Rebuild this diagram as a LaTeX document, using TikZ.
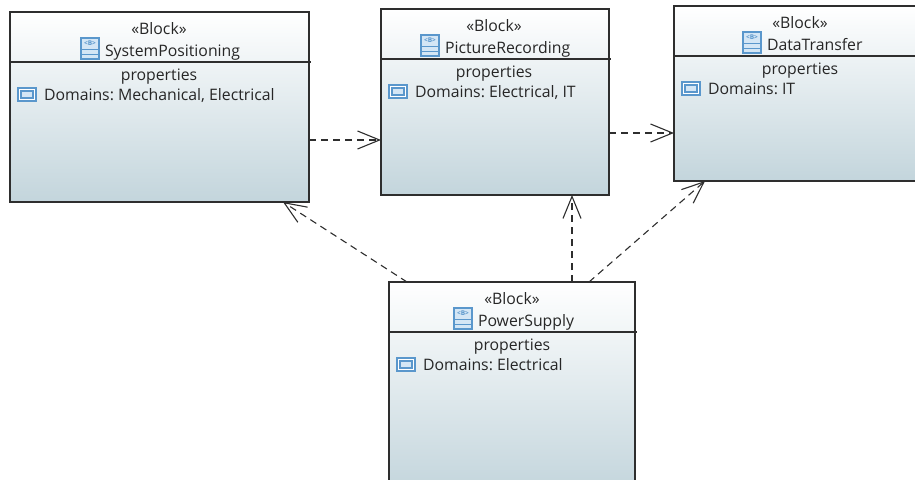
\documentclass[tikz,border=0pt]{standalone}
\usepackage{fontspec}
\setmainfont{Open Sans}
\usetikzlibrary{arrows.meta}
\definecolor{edge}{HTML}{2E2E2E}
\definecolor{bodyend}{HTML}{C3D5DC}
\definecolor{iconblue}{HTML}{5A97CC}
\definecolor{iconfill}{HTML}{D4E6F5}
\definecolor{txt}{HTML}{262626}
\frenchspacing
\tikzset{
  blockbox/.style={draw=edge,line width=1.2pt,top color=white,bottom color=bodyend,
    anchor=north west,inner sep=0pt,outer sep=0pt},
  divider/.style={draw=edge,line width=1.1pt},
  label/.style={font=\fontsize{15.8}{18}\selectfont,text=txt,inner sep=0pt,outer sep=0pt},
  dep/.style={draw=edge,line width=1.1pt,dash pattern=on 7pt off 5pt,
    -{Straight Barb[length=22pt,width=18pt,line width=1.1pt]}},
  iconline/.style={draw=iconblue,line width=1.1pt},
}
\newcommand{\umlblock}[9]{%
  \node[blockbox,minimum width=#4pt,minimum height=#5pt] (#1) at (#2,#3) {};
  \draw[divider] (#2,#3+50) -- (#2+#4+1.5,#3+50);
  \node[label,anchor=base] (#1st) at (#6,#3+22) {«Block»};
  \fill[iconfill] (#8,#3+26) rectangle (#8+18,#3+47);
  \draw[iconline] (#8,#3+26) rectangle (#8+18,#3+47);
  \draw[iconline] (#8,#3+37.5) -- (#8+18,#3+37.5) (#8,#3+42.5) -- (#8+18,#3+42.5);
  \node[text=iconblue,font=\fontsize{6.5}{6.5}\selectfont\bfseries,inner sep=0pt] (#1bi) at (#8+9,#3+31.5) {<B>};
  \node[label,anchor=base west] (#1ti) at (#8+24,#3+44) {#7};
  \node[label,anchor=base] (#1pr) at (#6,#3+68) {properties};
  \fill[white] (#2+8,#3+76) rectangle (#2+26,#3+89);
  \draw[iconline] (#2+8,#3+76) rectangle (#2+26,#3+89);
  \draw[iconline,fill=iconfill] (#2+11,#3+79) rectangle (#2+23,#3+86);
  \node[label,anchor=base west] (#1do) at (#2+34,#3+88) {#9};
}
\begin{document}
\begin{tikzpicture}[x=1pt,y=-1pt]
  \useasboundingbox (0,0) rectangle (915,479);
  \clip (0,0) rectangle (915,479);
  \umlblock{A}{10}{12}{299}{190}{159}{SystemPositioning}{81}{Domains: Mechanical, Electrical}
  \umlblock{B}{381}{9}{228}{186}{494}{PictureRecording}{421}{Domains: Electrical, IT}
  \umlblock{C}{674}{6}{252}{175}{800}{DataTransfer}{743}{Domains: IT}
  \umlblock{D}{389}{282}{246}{210}{512}{PowerSupply}{454}{Domains: Electrical}
  \draw[dep] (A.east |- 0,140) -- (B.west |- 0,140);
  \draw[dep] (B.east |- 0,133) -- (C.west |- 0,133);
  \draw[dep] (D.north -| 407,0) -- (A.south -| 283,0);
  \draw[dep] (D.north -| 572,0) -- (B.south -| 572,0);
  \draw[dep] (D.north -| 589,0) -- (C.south -| 705,0);
\end{tikzpicture}
\end{document}
